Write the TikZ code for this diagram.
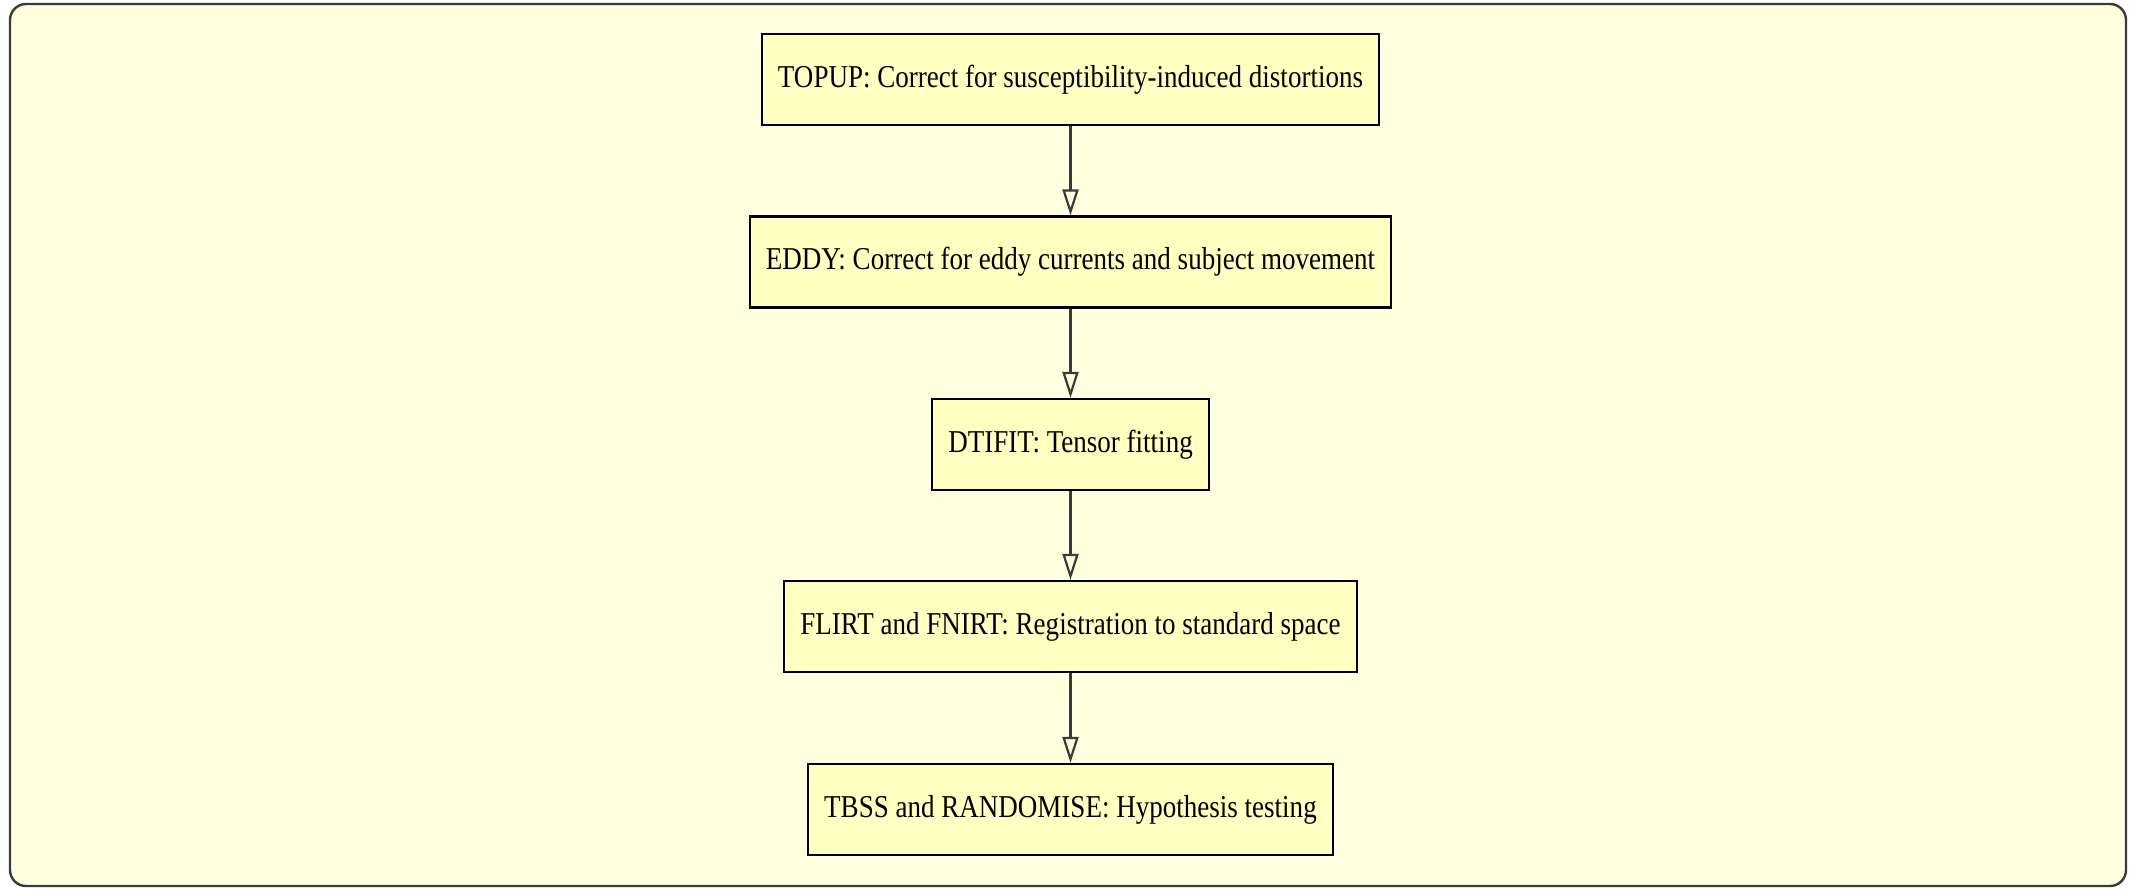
\documentclass[tikz,border=0pt]{standalone}
\usepackage{fontspec}
\setmainfont{Liberation Serif}[FakeStretch=0.85]
\usetikzlibrary{arrows.meta}
\definecolor{bgyellow}{HTML}{FFFFDF}
\definecolor{boxyellow}{HTML}{FFFFC2}
\definecolor{framegray}{HTML}{3A3A3A}
\tikzset{
  stepbox/.style={draw=black, line width=1.1pt, fill=boxyellow, minimum height=45.5pt,
    inner xsep=8pt, inner ysep=0pt, font=\fontsize{15.9pt}{18pt}\selectfont, anchor=center},
  flow/.style={draw=framegray, line width=1.1pt,
    -{Triangle[open, length=13pt, width=8pt, fill=bgyellow]}}
}
\begin{document}
\begin{tikzpicture}[x=0.5pt, y=-0.5pt]
\useasboundingbox (0,0) rectangle (2134,889);
\fill[white] (0,0) rectangle (2134,889);
\draw[draw=framegray, line width=1.2pt, fill=bgyellow, rounded corners=8pt] (10,4) rectangle (2126,886);
\node[stepbox] (topup) at (1070.5,79.5) {TOPUP: Correct for susceptibility-induced distortions};
\node[stepbox] (eddy) at (1070.5,262) {EDDY: Correct for eddy currents and subject movement};
\node[stepbox] (dtifit) at (1070.5,444.5) {DTIFIT: Tensor fitting};
\node[stepbox] (flirt) at (1070.5,626.5) {FLIRT and FNIRT: Registration to standard space};
\node[stepbox] (tbss) at (1070.5,809.5) {TBSS and RANDOMISE: Hypothesis testing};
\draw[flow] (topup) -- (eddy);
\draw[flow] (eddy) -- (dtifit);
\draw[flow] (dtifit) -- (flirt);
\draw[flow] (flirt) -- (tbss);
\end{tikzpicture}
\end{document}
